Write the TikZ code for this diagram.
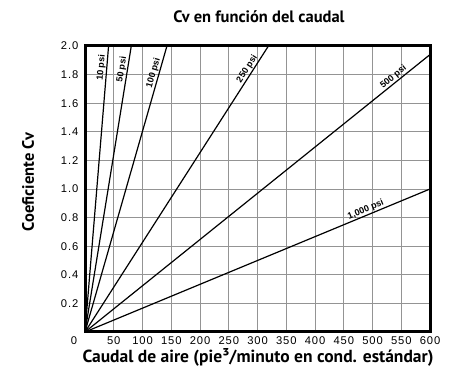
\documentclass[tikz,border=0pt]{standalone}
\usepackage{fontspec}
\setmainfont{Liberation Sans}
\newfontfamily\hdfont{PT Sans}
\newfontfamily\tickfont[LetterSpace=8]{Liberation Sans}
\newfontfamily\psifont{Liberation Sans Bold}
\begin{document}
\begin{tikzpicture}[x=1pt,y=1pt,
  gridline/.style={draw=black!42, line width=0.9pt},
  curve/.style={draw=black, line width=1.2pt},
  frame/.style={draw=black, line width=3pt},
  psilabel/.style={rotate=#1, anchor=south, inner sep=0.6pt, font=\psifont\fontsize{9}{10}\selectfont},
  tick/.style={font=\tickfont\fontsize{11.2}{12}\selectfont, inner sep=0pt},
  heading/.style={font=\hdfont\bfseries\fontsize{16.5}{18}\selectfont, inner sep=0pt},
  axislabel/.style={font=\hdfont\bfseries\fontsize{17.5}{19}\selectfont, inner sep=0pt}]
\useasboundingbox (0,0) rectangle (458,371);
\node[heading] (title) at (259,354) {Cv en función del caudal};
\node[axislabel] (xlabel) at (258,14) {Caudal de aire (pie³/minuto en cond. estándar)};
\node[axislabel, rotate=90, font=\hdfont\bfseries\fontsize{16.5}{18}\selectfont] (ylabel) at (28,189) {Coeficiente Cv};
\begin{scope}[shift={(85,39)}, x=0.575pt, y=143pt]
  \coordinate (O) at (0,0);
  \foreach \i in {1,...,11} \draw[gridline] (\i*50,0) -- (\i*50,2);
  \foreach \j in {1,...,9} \draw[gridline] (0,\j*0.2) -- (600,\j*0.2);
  \coordinate (e10) at (41,2);
  \coordinate (e50) at (80.5,2);
  \coordinate (e100) at (142.5,2);
  \coordinate (e250) at (319,2);
  \coordinate (e500) at (600,1.94);
  \coordinate (e1000) at (600,1.0);
  \draw[curve] (O) -- (e10) node[psilabel=85.3, pos=0.923] (l10) {10 psi};
  \draw[curve] (O) -- (e50) node[psilabel=80.8, pos=0.914] (l50) {50 psi};
  \draw[curve] (O) -- (e100) node[psilabel=74.0, pos=0.90] (l100) {100 psi};
  \draw[curve] (O) -- (e250) node[psilabel=57.3, pos=0.909] (l250) {250 psi};
  \draw[curve] (O) -- (e500) node[psilabel=38.8, pos=0.904] (l500) {500 psi};
  \draw[curve] (O) -- (e1000) node[psilabel=22.5, pos=0.82] (l1000) {1,000 psi};
  \draw[frame] (0,0) rectangle (600,2);
  \foreach \v/\t [count=\k] in {0.2/0.2,0.4/0.4,0.6/0.6,0.8/0.8,1.0/1.0,1.2/1.2,1.4/1.4,1.6/1.6,1.8/1.8,2.0/2.0}
    \node[tick, anchor=east] (ytick\k) at ([xshift=-6.5pt]0,\v) {\t};
  \foreach \v [count=\k] in {50,100,...,600}
    \node[tick, anchor=center] (xtick\k) at ([yshift=-9pt]\v,0) {\v};
  \node[tick, anchor=center] (xtick0) at ([yshift=-9pt]-19,0) {0};
\end{scope}
\end{tikzpicture}
\end{document}
